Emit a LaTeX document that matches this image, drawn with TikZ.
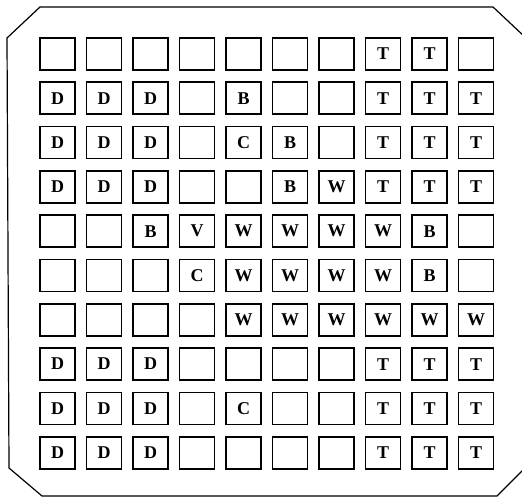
\documentclass[tikz,border=0pt]{standalone}
\usepackage{fontspec}
\setmainfont{Liberation Serif}
\usetikzlibrary{positioning}

% empty cell when the entry is x
\newcommand{\celltext}[1]{\if x#1\else#1\fi}

\begin{document}
\begin{tikzpicture}[
		x=0.5pt,y=-0.5pt,
		every node/.style={font=\fontsize{9}{10}\selectfont\bfseries},
		cell/.style={draw, line width=0.85pt, minimum width=17.5pt,
			minimum height=16pt, inner sep=0pt, outer sep=0pt, anchor=north west}
		]
		\useasboundingbox (0,0) rectangle (522,497);
		
		% =========================
		% Outer frame with cut corners
		% =========================
		\begin{scope}
			\clip (0,0) rectangle (522,497);
			\draw[line width=0.6pt] (40,7) -- (493,7) -- (526,38) -- (526,467)
			-- (497,496) -- (42,496) -- (9,468) -- (7,38) -- cycle;
		\end{scope}
		
		% =========================
		% 10 x 10 array of cells
		% =========================
		\foreach \cells [count=\r] in {
			{x,x,x,x,x,x,x,T,T,x},
			{D,D,D,x,B,x,x,T,T,T},
			{D,D,D,x,C,B,x,T,T,T},
			{D,D,D,x,x,B,W,T,T,T},
			{x,x,B,V,W,W,W,W,B,x},
			{x,x,x,C,W,W,W,W,B,x},
			{x,x,x,x,W,W,W,W,W,W},
			{D,D,D,x,x,x,x,T,T,T},
			{D,D,D,x,C,x,x,T,T,T},
			{D,D,D,x,x,x,x,T,T,T}}
		{
			\foreach \lab [count=\c] in \cells
			\node[cell] (sq-\r-\c) at ({40+46.5*(\c-1)},{38+44.3*(\r-1)}) {\celltext{\lab}};
		}
	\end{tikzpicture}
\end{document}
